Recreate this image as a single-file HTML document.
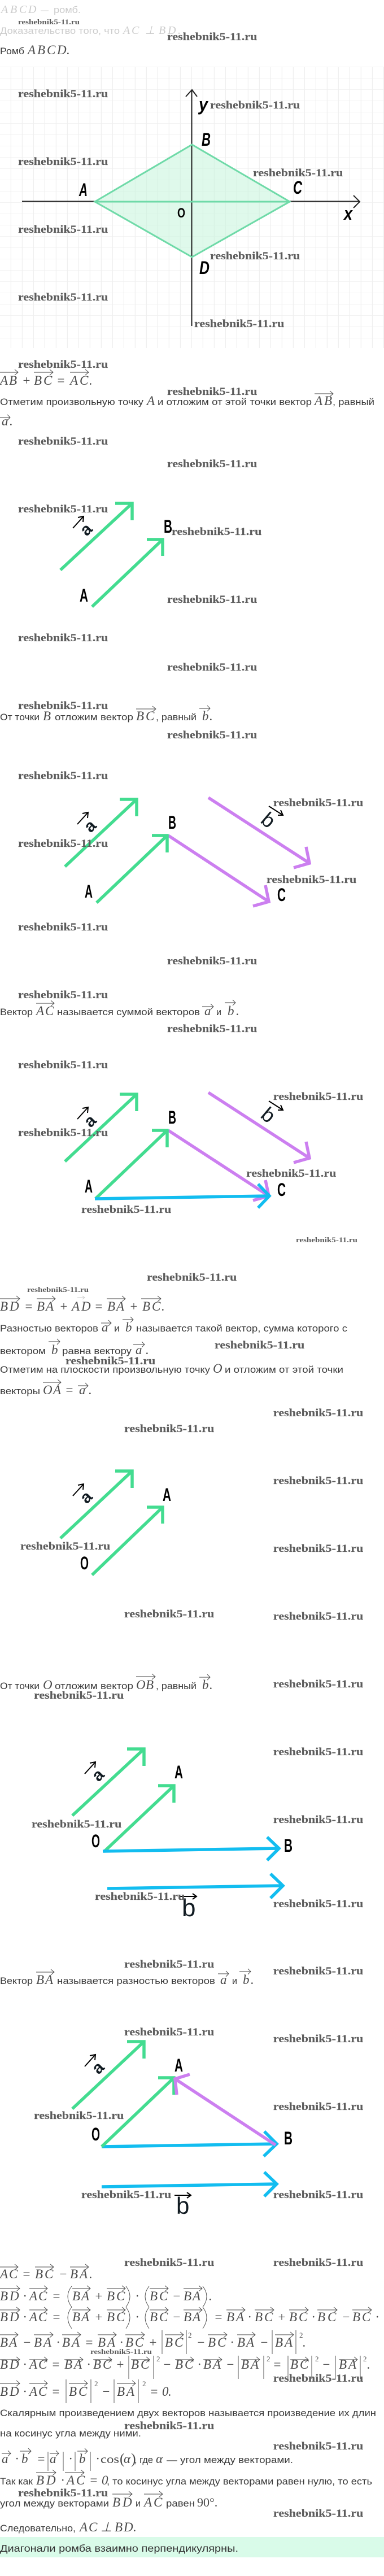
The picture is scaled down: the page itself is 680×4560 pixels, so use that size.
<!DOCTYPE html>
<html><head><meta charset="utf-8"><title>Ромб</title>
<style>
html,body{margin:0;padding:0;background:#fff}
svg{display:block}
.t{font:16.5px "Liberation Sans",sans-serif;fill:#3a3a3a}
.m{font:italic 23px "Liberation Serif",serif;fill:#4a4a4a}
.r{font:21px "Liberation Serif",serif;fill:#4a4a4a}
.u{font:13px "Liberation Serif",serif;fill:#4a4a4a}
.v{fill:none;stroke:#444;stroke-width:.9}
.d{fill:none;stroke:#444;stroke-width:.9}
.w{font:bold 19px "Liberation Serif",serif;fill:#5c5c5c;stroke:#5c5c5c;stroke-width:.15}
.s{font:bold 13px "Liberation Serif",serif;fill:#5c5c5c}
.l{font:bold 32px "Liberation Sans",sans-serif;fill:#000}
.i{font:italic bold 32px "Liberation Sans",sans-serif;fill:#000}
.g{fill:none;stroke:#43dc90;stroke-width:5.5}
.p{fill:none;stroke:#cc7ff0;stroke-width:5.5}
.c{fill:none;stroke:#12bdf0;stroke-width:5.5}
.k{fill:none;stroke:#000;stroke-width:2}
.la{font:bold 30px "Liberation Sans",sans-serif;fill:#111b22;text-anchor:middle}
.lb{font:36px "Liberation Sans",sans-serif;fill:#111b22;text-anchor:middle}
</style></head><body>
<svg xmlns="http://www.w3.org/2000/svg" width="680" height="4560" viewBox="0 0 680 4560">
<defs><pattern id="gr" patternUnits="userSpaceOnUse" x="0" y="118" width="20" height="20"><path d="M19.5 0V20M0 0H20" fill="none" stroke="#efefef" stroke-width="1.5"/></pattern></defs>

<text class="m" style="fill:#ccc;font-size:20px" y="23" x="2 18 34 50">ABCD</text>
<text class="t" style="fill:#ddd" x="72" y="23" textLength="14" lengthAdjust="spacingAndGlyphs">—</text>
<text class="t" style="fill:#ccc" x="95" y="23" textLength="48" lengthAdjust="spacingAndGlyphs">ромб.</text>
<text class="t" style="fill:#ccc" x="0" y="60" textLength="212" lengthAdjust="spacingAndGlyphs">Доказательство того, что</text>
<text class="m" style="fill:#ccc;font-size:20px" y="60" x="218 233 257 281 297 315">AC⊥BD.</text>
<text class="t" x="0" y="96" textLength="43" lengthAdjust="spacingAndGlyphs">Ромб</text>
<text class="m" y="96" x="49 66 83 101 118">ABCD.</text>

<!-- Rhombus figure -->
<rect x="0" y="118" width="680" height="498" fill="url(#gr)"/>
<path d="M168 357L340 256L513 357L340 455Z" fill="#c5f4db" fill-opacity=".55"/>
<path d="M39 356.500H637M626 346L637 357L626 368M339.500 577V159M329 171L340 159L349 171" fill="none" stroke="#222" stroke-width="2"/>
<path d="M168 357L340 256L513 357L340 455ZM168 357H513" fill="#c5f4db" fill-opacity="0" stroke="#6fdaa8" stroke-width="3"/>
<text class="i" x="140" y="347" textLength="15" lengthAdjust="spacingAndGlyphs">A</text>
<text class="i" x="519" y="343" textLength="16" lengthAdjust="spacingAndGlyphs">C</text>
<text class="l" style="font-size:24px" x="314" y="385" textLength="14" lengthAdjust="spacingAndGlyphs">O</text>
<text class="i" x="609" y="389" textLength="15" lengthAdjust="spacingAndGlyphs">x</text>
<text class="i" x="353" y="485" textLength="18" lengthAdjust="spacingAndGlyphs">D</text>
<text class="i" x="357" y="258" textLength="16" lengthAdjust="spacingAndGlyphs">B</text>
<text class="i" x="352" y="196" textLength="16" lengthAdjust="spacingAndGlyphs">y</text>

<!-- AB + BC = AC -->
<text class="m" y="681" x="0 16 39 60 77 100 124 141 158">AB+BC=AC.</text>
<path class="v" d="M0 659H32m-6-5l6 5-6 5M60 659H94m-6-5l6 5-6 5M124 659H157m-6-5l6 5-6 5"/>
<text class="t" x="0" y="717" textLength="254" lengthAdjust="spacingAndGlyphs">Отметим произвольную точку</text>
<text class="m" y="717" x="260">A</text>
<text class="t" x="279" y="717" textLength="273" lengthAdjust="spacingAndGlyphs">и отложим от этой точки вектор</text>
<text class="m" y="717" x="557 574">AB</text>
<text class="t" x="589" y="717" textLength="74" lengthAdjust="spacingAndGlyphs">, равный</text>
<path class="v" d="M557 697H590m-6-5l6 5-6 5"/>
<text class="m" y="753" x="3 17">a.</text>
<path class="v" d="M0 739H18m-5-5l5 5-5 5"/>

<!-- Figure 1 -->
<g transform="translate(234,891)"><path class="g" d="M-127 118L0 0M-30 0H0V30"/><path class="k" d="M-105 44L-86 23M-96 25L-86 23L-87 33"/><text class="la" transform="translate(-81,47) rotate(-45)" dy="9">a</text></g>
<path class="g" d="M163 1074L288 955M260 955H288V984"/>
<text class="l" x="141" y="1065" textLength="15" lengthAdjust="spacingAndGlyphs">A</text>
<text class="l" x="290" y="943" textLength="15" lengthAdjust="spacingAndGlyphs">B</text>

<text class="t" x="0" y="1275" textLength="70" lengthAdjust="spacingAndGlyphs">От точки</text>
<text class="m" y="1275" x="76">B</text>
<text class="t" x="97" y="1275" textLength="139" lengthAdjust="spacingAndGlyphs">отложим вектор</text>
<text class="m" y="1275" x="241 258">BC</text>
<text class="t" x="276" y="1275" textLength="72" lengthAdjust="spacingAndGlyphs">, равный</text>
<text class="m" y="1275" x="358 371">b.</text>
<path class="v" d="M241 1255H276m-6-5l6 5-6 5M353 1254H372m-5-5l5 5-5 5"/>

<!-- Figure 2 -->
<g transform="translate(242,1415)"><path class="g" d="M-127 119L0 0M-30 0H0V30"/><path class="k" d="M-105 44L-86 23M-96 25L-86 23L-87 33"/><text class="la" transform="translate(-82,48) rotate(-45)" dy="9">a</text></g>
<g transform="translate(548,1528)"><path class="p" d="M-179 -116L0 0M-6 -29L0 0L-28 8"/><path class="k" d="M-72 -101L-47 -85M-56 -85L-47 -85L-51 -94"/><text class="lb" transform="translate(-73,-76) rotate(40)" dy="12">b</text></g>
<path class="p" d="M298 1479L476 1596M470 1567L476 1596L448 1604"/>
<path class="g" d="M171 1598L296 1479M269 1479H296V1509"/>
<text class="l" x="150" y="1589" textLength="14" lengthAdjust="spacingAndGlyphs">A</text>
<text class="l" x="298" y="1467" textLength="14" lengthAdjust="spacingAndGlyphs">B</text>
<text class="l" x="491" y="1595" textLength="15" lengthAdjust="spacingAndGlyphs">C</text>

<text class="t" x="0" y="1797" textLength="58" lengthAdjust="spacingAndGlyphs">Вектор</text>
<text class="m" y="1797" x="64 80">AC</text>
<text class="t" x="101" y="1797" textLength="253" lengthAdjust="spacingAndGlyphs">называется суммой векторов</text>
<text class="m" y="1797" x="362">a</text>
<text class="t" x="383" y="1797" textLength="9" lengthAdjust="spacingAndGlyphs">и</text>
<text class="m" y="1797" x="403 418">b.</text>
<path class="v" d="M64 1776H96m-6-5l6 5-6 5M358 1782H378m-5-5l5 5-5 5M398 1775H417m-5-5l5 5-5 5"/>

<!-- Figure 3 -->
<g transform="translate(242,1937)"><path class="g" d="M-127 119L0 0M-30 0H0V30"/><path class="k" d="M-105 44L-86 23M-96 25L-86 23L-87 33"/><text class="la" transform="translate(-82,48) rotate(-45)" dy="9">a</text></g>
<g transform="translate(548,2050)"><path class="p" d="M-179 -116L0 0M-6 -29L0 0L-28 8"/><path class="k" d="M-72 -101L-47 -85M-56 -85L-47 -85L-51 -94"/><text class="lb" transform="translate(-73,-76) rotate(40)" dy="12">b</text></g>
<path class="p" d="M298 2001L476 2117M470 2089L476 2117L448 2125"/>
<path class="g" d="M169 2122L296 2001M269 2001H296V2031"/>
<path class="c" d="M168 2122L477 2117M457 2096L477 2117L457 2138"/>
<text class="l" x="150" y="2111" textLength="14" lengthAdjust="spacingAndGlyphs">A</text>
<text class="l" x="298" y="1989" textLength="14" lengthAdjust="spacingAndGlyphs">B</text>
<text class="l" x="491" y="2117" textLength="15" lengthAdjust="spacingAndGlyphs">C</text>

<!-- BD = BA + AD ... -->
<text class="m" y="2320" x="0 17 43 65 81 105 127 144 167 190 206 229 252 269 286">BD=BA+AD=BA+BC.</text>
<path class="v" d="M0 2299H35m-6-5l6 5-6 5M65 2299H98m-6-5l6 5-6 5M189 2299H222m-6-5l6 5-6 5M250 2299H285m-6-5l6 5-6 5"/>
<path d="M137 2297H150m-4-3l4 3-4 3" fill="none" stroke="#ccc"/>
<text class="t" x="0" y="2357" textLength="174" lengthAdjust="spacingAndGlyphs">Разностью векторов</text>
<text class="m" y="2357" x="180">a</text>
<text class="t" x="202" y="2357" textLength="10" lengthAdjust="spacingAndGlyphs">и</text>
<text class="m" y="2357" x="222">b</text>
<text class="t" x="241" y="2357" textLength="374" lengthAdjust="spacingAndGlyphs">называется такой вектор, сумма которого с</text>
<path class="v" d="M179 2342H197m-5-5l5 5-5 5M217 2336H236m-5-5l5 5-5 5"/>
<text class="t" x="0" y="2397" textLength="81" lengthAdjust="spacingAndGlyphs">вектором</text>
<text class="m" y="2397" x="91">b</text>
<text class="t" x="110" y="2397" textLength="123" lengthAdjust="spacingAndGlyphs">равна вектору</text>
<text class="m" y="2397" x="240 258">a.</text>
<path class="v" d="M86 2375H106m-5-5l5 5-5 5M236 2380H256m-5-5l5 5-5 5"/>
<text class="t" x="0" y="2430" textLength="372" lengthAdjust="spacingAndGlyphs">Отметим на плоскости произвольную точку</text>
<text class="m" y="2430" x="377">O</text>
<text class="t" x="398" y="2430" textLength="210" lengthAdjust="spacingAndGlyphs">и отложим от этой точки</text>
<text class="t" x="0" y="2468" textLength="71" lengthAdjust="spacingAndGlyphs">векторы</text>
<text class="m" y="2468" x="76 94 115 140 157">OA=a.</text>
<path class="v" d="M76 2447H108m-6-5l6 5-6 5M138 2453H156m-5-5l5 5-5 5"/>

<!-- Figure 4 -->
<g transform="translate(234,2604)"><path class="g" d="M-127 119L0 0M-30 0H0V30"/><path class="k" d="M-105 44L-86 23M-96 25L-86 23L-87 33"/><text class="la" transform="translate(-81,47) rotate(-45)" dy="9">a</text></g>
<path class="g" d="M163 2788L288 2668M260 2668H288V2697"/>
<text class="l" x="142" y="2778" textLength="15" lengthAdjust="spacingAndGlyphs">O</text>
<text class="l" x="288" y="2657" textLength="15" lengthAdjust="spacingAndGlyphs">A</text>

<text class="t" x="0" y="2990" textLength="70" lengthAdjust="spacingAndGlyphs">От точки</text>
<text class="m" y="2990" x="76">O</text>
<text class="t" x="97" y="2990" textLength="139" lengthAdjust="spacingAndGlyphs">отложим вектор</text>
<text class="m" y="2990" x="241 258">OB</text>
<text class="t" x="276" y="2990" textLength="72" lengthAdjust="spacingAndGlyphs">, равный</text>
<text class="m" y="2990" x="358 371">b.</text>
<path class="v" d="M241 2968H275m-6-5l6 5-6 5M353 2969H372m-5-5l5 5-5 5"/>

<!-- Figure 5 -->
<g transform="translate(255,3096)"><path class="g" d="M-127 118L0 0M-30 0H0V30"/><path class="k" d="M-105 44L-86 23M-96 25L-86 23L-87 33"/><text class="la" transform="translate(-81,47) rotate(-45)" dy="9">a</text></g>
<path class="g" d="M184 3278L308 3161M280 3161H308V3191"/>
<path class="c" d="M182 3277L494 3272M473 3252L494 3272L473 3293"/>
<text class="l" x="162" y="3270" textLength="15" lengthAdjust="spacingAndGlyphs">O</text>
<text class="l" x="309" y="3148" textLength="15" lengthAdjust="spacingAndGlyphs">A</text>
<text class="l" x="503" y="3278" textLength="15" lengthAdjust="spacingAndGlyphs">B</text>
<path class="c" d="M190 3343L501 3338M479 3317L501 3338L479 3360"/>
<path class="k" d="M319 3357H348M341 3352L348 3357L341 3362"/>
<text style="font:44px 'Liberation Sans',sans-serif;fill:#111b22" x="322" y="3392">b</text>

<text class="t" x="0" y="3512" textLength="58" lengthAdjust="spacingAndGlyphs">Вектор</text>
<text class="m" y="3512" x="64 80">BA</text>
<text class="t" x="101" y="3512" textLength="280" lengthAdjust="spacingAndGlyphs">называется разностью векторов</text>
<text class="m" y="3512" x="390">a</text>
<text class="t" x="411" y="3512" textLength="9" lengthAdjust="spacingAndGlyphs">и</text>
<text class="m" y="3512" x="430 444">b.</text>
<path class="v" d="M64 3491H96m-6-5l6 5-6 5M386 3494H405m-5-5l5 5-5 5M424 3490H444m-5-5l5 5-5 5"/>

<!-- Figure 6 -->
<g transform="translate(255,3614)"><path class="g" d="M-127 119L0 0M-30 0H0V30"/><path class="k" d="M-105 44L-86 23M-96 25L-86 23L-87 33"/><text class="la" transform="translate(-81,47) rotate(-45)" dy="9">a</text></g>
<path class="c" d="M180 3800L490 3795M468 3773L490 3795L467 3817"/>
<path class="g" d="M180 3800L308 3678M280 3678H308V3708"/>
<path class="p" d="M488 3797L310 3680M336 3672L310 3680L313 3708"/>
<text class="l" x="309" y="3667" textLength="15" lengthAdjust="spacingAndGlyphs">A</text>
<text class="l" x="162" y="3789" textLength="15" lengthAdjust="spacingAndGlyphs">O</text>
<text class="l" x="503" y="3796" textLength="15" lengthAdjust="spacingAndGlyphs">B</text>
<path class="c" d="M180 3871L490 3866M468 3845L490 3866L468 3888"/>
<path class="k" d="M309 3886H338M331 3881L338 3886L331 3891"/>
<text style="font:42px 'Liberation Sans',sans-serif;fill:#111b22" x="312" y="3919">b</text>

<!-- Math block -->
<text class="m" y="4033" x="0 16 39 62 79 104 124 141 158">AC=BC−BA.</text>
<path class="v" d="M0 4013H32m-6-5l6 5-6 5M62 4013H95m-6-5l6 5-6 5M124 4013H157m-6-5l6 5-6 5"/>

<text class="m" y="4072" x="0 17 41 52 68 92 128 144 167 189 206 240 265 282 305 325 341 370">BD·AC=BA+BC·BC−BA.</text>
<path class="v" d="M0 4051H35m-6-5l6 5-6 5M52 4051H84m-6-5l6 5-6 5M128 4051H160m-6-5l6 5-6 5M189 4051H222m-6-5l6 5-6 5M265 4051H298m-6-5l6 5-6 5M325 4051H358m-6-5l6 5-6 5"/>
<path class="d" d="M127 4047Q113 4065 127 4084M223 4047Q237 4065 223 4084M264 4047Q250 4065 264 4084M359 4047Q373 4065 359 4084"/>

<text class="m" y="4109" x="0 17 41 52 68 92 128 144 167 189 206 240 265 282 305 325 341 379 401 418 439 451 468 491 512 529 552 562 580 605 624 641 665">BD·AC=BA+BC·BC−BA=BA·BC+BC·BC−BC·</text>
<path class="v" d="M0 4089H35m-6-5l6 5-6 5M52 4089H84m-6-5l6 5-6 5M128 4089H160m-6-5l6 5-6 5M189 4089H222m-6-5l6 5-6 5M265 4089H298m-6-5l6 5-6 5M325 4089H358m-6-5l6 5-6 5M401 4089H434m-6-5l6 5-6 5M451 4089H485m-6-5l6 5-6 5M512 4089H546m-6-5l6 5-6 5M562 4089H597m-6-5l6 5-6 5M624 4089H658m-6-5l6 5-6 5"/>
<path class="d" d="M127 4084Q113 4102 127 4122M223 4084Q237 4102 223 4122M264 4084Q250 4102 264 4122M359 4084Q373 4102 359 4122"/>

<text class="m" y="4154" x="0 16 40 60 77 100 110 127 150 173 190 212 222 239 263 292 309 348 368 385 408 420 436 460 487 504 536">BA−BA·BA=BA·BC+BC−BC·BA−BA.</text>
<path class="v" d="M0 4133H32m-6-5l6 5-6 5M60 4133H94m-6-5l6 5-6 5M110 4133H143m-6-5l6 5-6 5M173 4133H206m-6-5l6 5-6 5M222 4133H256m-6-5l6 5-6 5M292 4133H325m-6-5l6 5-6 5M368 4133H402m-6-5l6 5-6 5M420 4133H452m-6-5l6 5-6 5M487 4133H520m-6-5l6 5-6 5"/>
<path class="d" d="M287 4125V4167M330 4125V4167M482 4125V4167M524 4125V4167"/>
<text class="u" x="333" y="4138">2</text><text class="u" x="530" y="4138">2</text>

<text class="m" y="4193" x="0 17 41 52 68 91 114 131 154 165 182 205 232 249 288 310 327 350 360 377 400 427 444 483 514 531 570 600 617 650">BD·AC=BA·BC+BC−BC·BA−BA=BC−BA.</text>
<path class="v" d="M0 4177H35m-6-5l6 5-6 5M52 4177H84m-6-5l6 5-6 5M114 4177H147m-6-5l6 5-6 5M165 4177H198m-6-5l6 5-6 5M232 4177H265m-6-5l6 5-6 5M310 4177H343m-6-5l6 5-6 5M360 4177H393m-6-5l6 5-6 5M427 4177H460m-6-5l6 5-6 5M514 4177H546m-6-5l6 5-6 5M600 4177H633m-6-5l6 5-6 5"/>
<path class="d" d="M228 4170V4211M272 4170V4211M422 4170V4211M467 4170V4211M510 4170V4211M552 4170V4211M594 4170V4211M638 4170V4211"/>
<text class="u" x="277" y="4180">2</text><text class="u" x="472" y="4180">2</text><text class="u" x="558" y="4180">2</text><text class="u" x="643" y="4180">2</text>

<text class="m" y="4241" x="0 17 41 52 68 91 122 139 180 207 224 265 287 298">BD·AC=BC−BA=0.</text>
<path class="v" d="M0 4219H35m-6-5l6 5-6 5M52 4219H84m-6-5l6 5-6 5M122 4219H155m-6-5l6 5-6 5M207 4219H240m-6-5l6 5-6 5"/>
<path class="d" d="M117 4212V4254M161 4212V4254M202 4212V4254M245 4212V4254"/>
<text class="u" x="167" y="4224">2</text><text class="u" x="252" y="4224">2</text>

<text class="t" x="0" y="4277" textLength="666" lengthAdjust="spacingAndGlyphs">Скалярным произведением двух векторов называется произведение их длин</text>
<text class="t" x="0" y="4313" textLength="250" lengthAdjust="spacingAndGlyphs">на косинус угла между ними.</text>

<text class="m" y="4360" x="3 27 38 65 88 122 140 170">a·b=a·b·</text>
<path class="v" d="M3 4343H19m-5-5l5 5-5 5M35 4339H55m-5-5l5 5-5 5M88 4343H104m-5-5l5 5-5 5M137 4339H155m-5-5l5 5-5 5"/>
<path class="d" d="M85 4340V4374M112 4340V4374M133 4340V4374M160 4340V4374"/>
<text class="r" x="178" y="4360" textLength="33" lengthAdjust="spacingAndGlyphs">cos</text>
<text class="r" style="font-size:26px" x="212" y="4361">(</text>
<text class="m" x="219" y="4360">α</text>
<text class="r" style="font-size:26px" x="232" y="4361">)</text>
<text class="t" x="238" y="4360" textLength="33" lengthAdjust="spacingAndGlyphs">, где</text>
<text class="m" x="276" y="4360">α</text>
<text class="t" x="295" y="4360" textLength="224" lengthAdjust="spacingAndGlyphs">— угол между векторами.</text>

<text class="t" x="0" y="4398" textLength="58" lengthAdjust="spacingAndGlyphs">Так как</text>
<text class="m" y="4398" x="64 82 108 118 135 158 180">BD·AC=0</text>
<text class="t" x="189" y="4398" textLength="470" lengthAdjust="spacingAndGlyphs">, то косинус угла между векторами равен нулю, то есть</text>
<path class="v" d="M64 4377H99m-6-5l6 5-6 5M115 4377H149m-6-5l6 5-6 5"/>
<text class="t" x="0" y="4437" textLength="193" lengthAdjust="spacingAndGlyphs">угол между векторами</text>
<text class="m" y="4437" x="199 217">BD</text>
<text class="t" x="240" y="4437" textLength="9" lengthAdjust="spacingAndGlyphs">и</text>
<text class="m" y="4437" x="255 272">AC</text>
<text class="t" x="294" y="4437" textLength="51" lengthAdjust="spacingAndGlyphs">равен</text>
<text class="r" x="349" y="4437" style="font-size:22px">90°.</text>
<path class="v" d="M199 4415H234m-6-5l6 5-6 5M255 4415H288m-6-5l6 5-6 5"/>
<text class="t" x="0" y="4481" textLength="134" lengthAdjust="spacingAndGlyphs">Следовательно,</text>
<text class="m" y="4481" x="141 157 178 203 219 236">AC⊥BD.</text>

<rect x="0" y="4491" width="680" height="36" fill="#d9fbe9"/>
<text class="t" style="font-size:17.500px;fill:#333" x="0" y="4517" textLength="422" lengthAdjust="spacingAndGlyphs">Диагонали ромба взаимно перпендикулярны.</text>

<!-- Watermarks -->
<g transform="scale(1.16,1)">
<text class="s" x="27.6" y="43">reshebnik5-11.ru</text>
<text class="w" x="255.2" y="71">reshebnik5-11.ru</text>
<text class="w" x="27.6" y="172">reshebnik5-11.ru</text>
<text class="w" x="320.7" y="192">reshebnik5-11.ru</text>
<text class="w" x="27.6" y="292">reshebnik5-11.ru</text>
<text class="w" x="386.2" y="312">reshebnik5-11.ru</text>
<text class="w" x="27.6" y="412">reshebnik5-11.ru</text>
<text class="w" x="320.7" y="459">reshebnik5-11.ru</text>
<text class="w" x="27.6" y="532">reshebnik5-11.ru</text>
<text class="w" x="296.6" y="579">reshebnik5-11.ru</text>
<text class="w" x="27.6" y="651">reshebnik5-11.ru</text>
<text class="w" x="255.2" y="699">reshebnik5-11.ru</text>
<text class="w" x="27.6" y="787">reshebnik5-11.ru</text>
<text class="w" x="255.2" y="827">reshebnik5-11.ru</text>
<text class="w" x="27.6" y="907">reshebnik5-11.ru</text>
<text class="w" x="262.1" y="947">reshebnik5-11.ru</text>
<text class="w" x="255.2" y="1067">reshebnik5-11.ru</text>
<text class="w" x="27.6" y="1135">reshebnik5-11.ru</text>
<text class="w" x="255.2" y="1187">reshebnik5-11.ru</text>
<text class="w" x="27.6" y="1255">reshebnik5-11.ru</text>
<text class="w" x="255.2" y="1307">reshebnik5-11.ru</text>
<text class="w" x="27.6" y="1379">reshebnik5-11.ru</text>
<text class="w" x="417.2" y="1427">reshebnik5-11.ru</text>
<text class="w" x="27.6" y="1499">reshebnik5-11.ru</text>
<text class="w" x="406.9" y="1563">reshebnik5-11.ru</text>
<text class="w" x="27.6" y="1647">reshebnik5-11.ru</text>
<text class="w" x="255.2" y="1707">reshebnik5-11.ru</text>
<text class="w" x="27.6" y="1767">reshebnik5-11.ru</text>
<text class="w" x="255.2" y="1827">reshebnik5-11.ru</text>
<text class="w" x="27.6" y="1891">reshebnik5-11.ru</text>
<text class="w" x="417.2" y="1947">reshebnik5-11.ru</text>
<text class="w" x="27.6" y="2011">reshebnik5-11.ru</text>
<text class="w" x="375.9" y="2083">reshebnik5-11.ru</text>
<text class="w" x="124.1" y="2147">reshebnik5-11.ru</text>
<text class="s" x="451.7" y="2199">reshebnik5-11.ru</text>
<text class="w" x="224.1" y="2267">reshebnik5-11.ru</text>
<text class="s" x="41.4" y="2287">reshebnik5-11.ru</text>
<text class="w" x="327.6" y="2387">reshebnik5-11.ru</text>
<text class="w" x="100" y="2415">reshebnik5-11.ru</text>
<text class="w" x="417.2" y="2507">reshebnik5-11.ru</text>
<text class="w" x="189.7" y="2535">reshebnik5-11.ru</text>
<text class="w" x="417.2" y="2627">reshebnik5-11.ru</text>
<text class="w" x="31" y="2743">reshebnik5-11.ru</text>
<text class="w" x="417.2" y="2747">reshebnik5-11.ru</text>
<text class="w" x="189.7" y="2863">reshebnik5-11.ru</text>
<text class="w" x="417.2" y="2867">reshebnik5-11.ru</text>
<text class="w" x="417.2" y="2987">reshebnik5-11.ru</text>
<text class="w" x="51.7" y="3007">reshebnik5-11.ru</text>
<text class="w" x="417.2" y="3107">reshebnik5-11.ru</text>
<text class="w" x="417.2" y="3227">reshebnik5-11.ru</text>
<text class="w" x="48.3" y="3235">reshebnik5-11.ru</text>
<text class="w" x="144.8" y="3363">reshebnik5-11.ru</text>
<text class="w" x="417.2" y="3376">reshebnik5-11.ru</text>
<text class="w" x="189.7" y="3483">reshebnik5-11.ru</text>
<text class="w" x="417.2" y="3495">reshebnik5-11.ru</text>
<text class="w" x="189.7" y="3603">reshebnik5-11.ru</text>
<text class="w" x="417.2" y="3615">reshebnik5-11.ru</text>
<text class="w" x="417.2" y="3735">reshebnik5-11.ru</text>
<text class="w" x="51.7" y="3751">reshebnik5-11.ru</text>
<text class="w" x="124.1" y="3891">reshebnik5-11.ru</text>
<text class="w" x="417.2" y="3891">reshebnik5-11.ru</text>
<text class="w" x="189.7" y="4011">reshebnik5-11.ru</text>
<text class="w" x="417.2" y="4011">reshebnik5-11.ru</text>
<text class="s" x="137.9" y="4167">reshebnik5-11.ru</text>
<text class="w" x="417.2" y="4216">reshebnik5-11.ru</text>
<text class="w" x="189.7" y="4300">reshebnik5-11.ru</text>
<text class="w" x="417.2" y="4336">reshebnik5-11.ru</text>
<text class="w" x="27.6" y="4419">reshebnik5-11.ru</text>
<text class="w" x="417.2" y="4455">reshebnik5-11.ru</text>
</g>
</svg>
</body></html>
